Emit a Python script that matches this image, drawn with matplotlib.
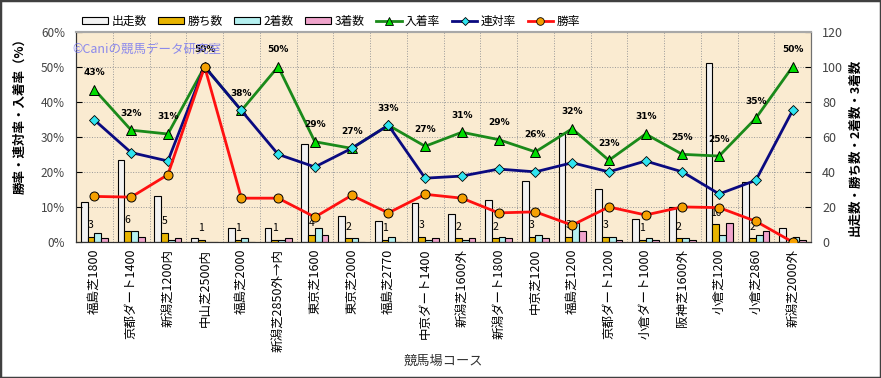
import numpy as np
import matplotlib.pyplot as plt
from matplotlib.patches import Patch, Rectangle
from matplotlib.lines import Line2D

plt.rcParams['font.family'] = ['Noto Sans CJK JP', 'DejaVu Sans']

# データ
courses = ['福島芝1800', '京都ダート1400', '新潟芝1200内', '中山芝2500内', '福島芝2000',
           '新潟芝2850外→内', '東京芝1600', '東京芝2000', '福島芝2770', '中京ダート1400',
           '新潟芝1600外', '新潟ダート1800', '中京芝1200', '福島芝1200', '京都ダート1200',
           '小倉ダート1000', '阪神芝1600外', '小倉芝1200', '小倉芝2860', '新潟芝2000外']
starts = [23, 47, 26, 2, 8, 8, 56, 15, 12, 22, 16, 24, 35, 62, 30, 13, 20, 102, 34, 8]
wins = [3, 6, 5, 1, 1, 1, 4, 2, 1, 3, 2, 2, 3, 3, 3, 1, 2, 10, 2, 0]
seconds = [5, 6, 1, 0, 2, 1, 8, 2, 3, 1, 1, 3, 4, 11, 3, 2, 2, 4, 4, 3]
thirds = [2, 3, 2, 0, 0, 2, 4, 0, 0, 2, 2, 2, 2, 6, 1, 1, 1, 11, 6, 1]
place_rate = [43.48, 31.9, 30.8, 50.0, 37.5, 50.0, 28.6, 26.7, 33.3, 27.3,
              31.3, 29.2, 25.7, 32.3, 23.3, 30.8, 25.0, 24.51, 35.3, 50.0]
quinella_rate = [34.8, 25.5, 23.1, 50.0, 37.5, 25.0, 21.4, 26.7, 33.3, 18.2,
                 18.8, 20.8, 20.0, 22.6, 20.0, 23.1, 20.0, 13.7, 17.6, 37.5]
win_rate = [13.0, 12.8, 19.2, 50.0, 12.5, 12.5, 7.1, 13.3, 8.3, 13.6,
            12.5, 8.3, 8.6, 4.8, 10.0, 7.7, 10.0, 9.8, 5.9, 0.0]

W, H = 881, 378
fig = plt.figure(figsize=(W / 100, H / 100), dpi=100)
fig.patches.append(Rectangle((0, 0), 1, 1, transform=fig.transFigure, fill=False,
                             edgecolor='#404040', linewidth=2.5))

# 件数（右軸）
ax = fig.add_axes([76 / W, (H - 242) / H, 735 / W, 210.4 / H])
ax.set_facecolor('#FAEBD1')
x = np.arange(len(courses))
w = 0.185
bar_cols = ['#F2F2F2', '#E8B400', '#B4F0F0', '#F0A4CC']
for k, (vals, c) in enumerate(zip([starts, wins, seconds, thirds], bar_cols)):
    ax.bar(x + (k - 1.5) * w, vals, w, color=c, edgecolor='black', linewidth=0.8, zorder=2)
for xi, v in zip(x, wins):
    if v > 0:
        ax.annotate(str(v), (xi - 0.5 * w, v), xytext=(0, 5), textcoords='offset points',
                    ha='center', va='bottom', fontsize=7.5, zorder=3)
ax.set_ylim(0, 120)
ax.set_yticks(np.arange(0, 121, 20))
ax.set_xlim(-0.5, len(courses) - 0.5)
ax.set_xticks(x)
ax.set_xticklabels(courses, rotation=90, fontsize=9)
ax.set_xticks(np.arange(-0.5, len(courses), 1), minor=True)
ax.tick_params(axis='x', which='both', length=0, pad=5)
ax.grid(True, which='major', axis='y', linestyle=':', color='#999999', linewidth=0.7, zorder=0)
ax.grid(True, which='minor', axis='x', linestyle=':', color='#999999', linewidth=0.7, zorder=0)
ax.set_axisbelow(True)

# 率（左軸）
axp = ax.twinx()
axp.yaxis.tick_left()
ax.yaxis.tick_right()
ax.tick_params(axis='y', direction='in', length=4, pad=8, labelsize=9, labelcolor='#444444')
axp.plot(x, place_rate, color='#1A8A1A', linewidth=2, marker='^', markersize=7.5,
         markerfacecolor='#00DD00', markeredgecolor='black', markeredgewidth=0.7, zorder=3)
axp.plot(x, quinella_rate, color='#0A0A80', linewidth=2, marker='D', markersize=5,
         markerfacecolor='#30E4F0', markeredgecolor='black', markeredgewidth=0.6, zorder=3)
axp.plot(x, win_rate, color='#FF1010', linewidth=2, marker='o', markersize=6.5,
         markerfacecolor='#F5A000', markeredgecolor='black', markeredgewidth=0.7, zorder=3)
for xi, v in zip(x, place_rate):
    axp.annotate(f'{v:.0f}%', (xi, v), xytext=(0, 9), textcoords='offset points',
                 ha='center', va='bottom', fontsize=6.5, fontweight='bold', family='DejaVu Sans')
axp.set_ylim(0, 60)
axp.set_yticks(np.arange(0, 61, 10))
axp.set_yticklabels([f'{t}%' for t in range(0, 61, 10)])
axp.tick_params(axis='y', direction='in', length=4, pad=8, labelsize=8.5, labelcolor='#444444')

for a in (ax, axp):
    a.spines['top'].set_color('#A8A8A8')
    a.spines['top'].set_linewidth(1.5)
    a.spines['left'].set_color('#333333')
    a.spines['bottom'].set_color('#333333')
    a.spines['right'].set_color('#707070')

# 軸ラベル
fig.text(20 / W, 1 - 113 / H, '勝率・連対率・入着率（%）', rotation=90, ha='center', va='center',
         fontsize=9, fontweight='bold')
fig.text(855 / W, 1 - 147 / H, '出走数・勝ち数・2着数・3着数', rotation=90, ha='center', va='center',
         fontsize=9, fontweight='bold')
fig.text(443 / W, 1 - 361 / H, '競馬場コース', ha='center', va='center', fontsize=9.5, color='#333333')
fig.text(72 / W, 1 - 49 / H, '©Caniの競馬データ研究室', ha='left', va='center', fontsize=9,
         color='#7878F0', alpha=0.85)

# 凡例
handles = [Patch(facecolor=c, edgecolor='black', linewidth=0.8) for c in bar_cols]
handles += [
    Line2D([], [], color='#1A8A1A', linewidth=2, marker='^', markersize=6,
           markerfacecolor='#00DD00', markeredgecolor='black', markeredgewidth=0.6),
    Line2D([], [], color='#0A0A80', linewidth=2, marker='D', markersize=4.5,
           markerfacecolor='#30E4F0', markeredgecolor='black', markeredgewidth=0.6),
    Line2D([], [], color='#FF1010', linewidth=2, marker='o', markersize=5.5,
           markerfacecolor='#F5A000', markeredgecolor='black', markeredgewidth=0.6),
]
labels = ['出走数', '勝ち数', '2着数', '3着数', '入着率', '連対率', '勝率']
fig.legend(handles, labels, loc='center left', bbox_to_anchor=(82 / W, 1 - 21 / H),
           ncol=7, frameon=False, fontsize=8.5, handlelength=2.2, handleheight=0.5,
           handletextpad=0.3, columnspacing=0.95, borderpad=0, borderaxespad=0)

fig.savefig('out.png', dpi=100)
plt.close(fig)
